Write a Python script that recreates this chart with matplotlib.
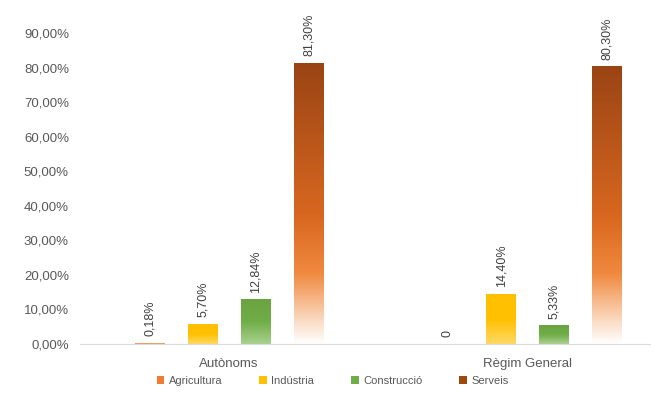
import numpy as np
import matplotlib
matplotlib.use("Agg")
import matplotlib.pyplot as plt
from matplotlib.colors import LinearSegmentedColormap
from matplotlib.patches import Patch

# data
categories = ["Autònoms", "Règim General"]
series = ["Agricultura", "Indústria", "Construcció", "Serveis"]
values = {
    "Agricultura": [0.18, 0.0],
    "Indústria": [5.70, 14.40],
    "Construcció": [12.84, 5.33],
    "Serveis": [81.30, 80.30],
}
yticks = [0, 10, 20, 30, 40, 50, 60, 70, 80, 90]

# colours (bottom -> top of each bar)
gradients = {
    "Agricultura": ["#F8CBAD", "#ED7D31"],
    "Indústria": ["#FFD966", "#FFC000", "#FFC000"],
    "Construcció": ["#A9D18E", "#70AD47", "#6AA442"],
    "Serveis": [(0.0, "#FFFFFF"), (0.08, "#FBDCC4"), (0.25, "#F08A40"),
                (0.45, "#D96820"), (1.0, "#9A4414")],
}
legend_colors = {
    "Agricultura": "#ED7D31",
    "Indústria": "#FFC000",
    "Construcció": "#70AD47",
    "Serveis": "#9E480E",
}

plt.rcParams["font.family"] = ["Liberation Sans", "DejaVu Sans"]
text_color = "#595959"

fig = plt.figure(figsize=(6.65, 4.12), dpi=100)
ax = fig.add_axes([80 / 665, 68 / 412, (650 - 80) / 665, (379 - 68) / 412])

width = 0.1
offsets = [-0.267, -0.089, 0.089, 0.267]
x = np.arange(len(categories))

for s, off in zip(series, offsets):
    cmap = LinearSegmentedColormap.from_list(s, gradients[s])
    grad = np.linspace(0, 1, 256).reshape(-1, 1)
    for xi, v in zip(x, values[s]):
        x0 = xi + off - width / 2
        if v > 0:
            ax.imshow(grad, cmap=cmap, origin="lower", aspect="auto",
                      extent=[x0, x0 + width, 0, v], zorder=2)
        label = "0" if v == 0 else f"{v:.2f}%".replace(".", ",")
        ax.annotate(label, (xi + off, v), xytext=(0, 5),
                    textcoords="offset points", rotation=90,
                    ha="center", va="bottom", fontsize=9,
                    color="#404040", annotation_clip=False)

ax.set_xlim(-0.5, 1.41)
ax.set_ylim(0, 90)
ax.set_yticks(yticks)
ax.set_yticklabels([f"{t:.2f}%".replace(".", ",") for t in yticks])
ax.set_xticks(x)
ax.set_xticklabels(categories)
ax.tick_params(axis="both", length=0, labelsize=9.5, colors=text_color)
ax.tick_params(axis="x", pad=10)
ax.tick_params(axis="y", pad=8)
for side in ["top", "right", "left"]:
    ax.spines[side].set_visible(False)
ax.spines["bottom"].set_color("#D9D9D9")

handles = [Patch(facecolor=legend_colors[s], label=s) for s in series]
fig.legend(handles=handles, loc="center", bbox_to_anchor=(0.5, 0.075),
           ncol=4, frameon=False, fontsize=8, handlelength=0.7,
           handleheight=0.7, handletextpad=0.4, columnspacing=3.3,
           labelcolor=text_color)

fig.savefig("out.png", dpi=100)
